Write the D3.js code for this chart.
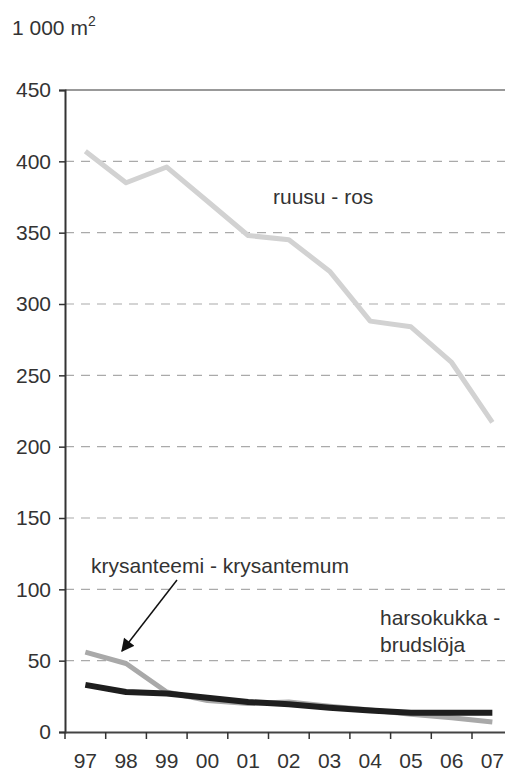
<!DOCTYPE html>
<html>
<head>
<meta charset="utf-8">
<script src="https://cdn.jsdelivr.net/npm/d3@7"></script>
<style>
    body { margin: 0; background: #fff; }
    text { font-family: Arial, "Liberation Sans", sans-serif; fill: #333; }
</style>
</head>
<body>
<div class="chart"></div>
<script>
// Data
const years = ['97', '98', '99', '00', '01', '02', '03', '04', '05', '06', '07'];
const ruusu = [407, 385, 396, 372, 348, 345, 323, 288, 284, 259, 217];
const krysanteemi = [56, 48, 28, 22, 20, 21, 18, 15.5, 12.5, 10, 7];
const harsokukka = [33, 28, 27, 24, 21, 19.5, 17, 15, 13.5, 13.5, 13.5];
const yTicks = [0, 50, 100, 150, 200, 250, 300, 350, 400, 450];

function drawChart() {
    const dimensions = {
        width: 505,
        height: 771,
        left: 65,
        top: 90,
        bottom: 732,
        band: 40.7,
        fontSize: '21px'
    };

    const svg = d3.select('.chart')
        .append('svg')
        .attr('width', dimensions.width)
        .attr('height', dimensions.height);

    // Scales
    const xScale = d3.scaleBand()
        .domain(years)
        .range([dimensions.left, dimensions.left + dimensions.band * years.length]);

    const yScale = d3.scaleLinear()
        .domain([0, 450])
        .range([dimensions.bottom, dimensions.top]);

    const xCenter = (d, i) => xScale(years[i]) + xScale.bandwidth() / 2;

    // Grid
    svg.append('g')
        .selectAll('line')
        .data(yTicks.filter(d => d > 0))
        .join('line')
        .attr('x1', dimensions.left)
        .attr('x2', xScale.range()[1])
        .attr('y1', d => yScale(d))
        .attr('y2', d => yScale(d))
        .attr('stroke', d => d === 450 ? '#999' : '#aaa')
        .attr('stroke-width', d => d === 450 ? 2 : 1.2)
        .attr('stroke-dasharray', d => d === 450 ? null : '9,7');

    // Axes
    const yAxis = d3.axisLeft(yScale)
        .tickValues(yTicks)
        .tickSize(6)
        .tickPadding(8);

    const yAxisGroup = svg.append('g')
        .attr('transform', `translate(${dimensions.left}, 0)`)
        .call(yAxis);
    yAxisGroup.select('.domain').attr('stroke', '#333').attr('stroke-width', 2);
    yAxisGroup.selectAll('.tick line').attr('stroke', '#333').attr('stroke-width', 1.5);
    yAxisGroup.selectAll('.tick text')
        .style('font-size', dimensions.fontSize)
        .attr('fill', '#333');

    const xAxis = d3.axisBottom(xScale)
        .tickSize(0)
        .tickPadding(21);

    const xAxisGroup = svg.append('g')
        .attr('transform', `translate(0, ${dimensions.bottom})`)
        .call(xAxis);
    xAxisGroup.select('.domain').attr('stroke', '#444').attr('stroke-width', 2);
    xAxisGroup.selectAll('.tick text')
        .style('font-size', dimensions.fontSize)
        .attr('fill', '#333');

    // x ticks at band edges
    xAxisGroup.selectAll('.edge')
        .data(years)
        .join('line')
        .attr('class', 'edge')
        .attr('x1', d => xScale(d))
        .attr('x2', d => xScale(d))
        .attr('y1', 0)
        .attr('y2', 7)
        .attr('stroke', '#333')
        .attr('stroke-width', 1.5);

    // Lines
    const series = [
        { values: ruusu, color: '#d2d2d2', width: 5 },
        { values: krysanteemi, color: '#a9a9a9', width: 5 },
        { values: harsokukka, color: '#1e1e1e', width: 6 }
    ];

    const line = d3.line()
        .x(xCenter)
        .y(d => yScale(d));

    svg.append('g')
        .selectAll('path')
        .data(series)
        .join('path')
        .attr('d', d => line(d.values))
        .attr('fill', 'none')
        .attr('stroke', d => d.color)
        .attr('stroke-width', d => d.width)
        .attr('stroke-linejoin', 'round');

    // Unit label
    const unit = svg.append('text')
        .attr('x', 12)
        .attr('y', 35)
        .style('font-size', dimensions.fontSize)
        .text('1 000 m');
    unit.append('tspan')
        .attr('dy', -9)
        .style('font-size', '14px')
        .text('2');

    // Annotations
    svg.append('text')
        .attr('x', 273)
        .attr('y', 204)
        .style('font-size', dimensions.fontSize)
        .text('ruusu - ros');

    svg.append('text')
        .attr('x', 91)
        .attr('y', 573)
        .style('font-size', dimensions.fontSize)
        .text('krysanteemi - krysantemum');

    const harso = svg.append('text')
        .attr('x', 380)
        .attr('y', 625)
        .style('font-size', dimensions.fontSize);
    harso.append('tspan').text('harsokukka -');
    harso.append('tspan').attr('x', 380).attr('dy', 27).text('brudslöja');

    // Arrow
    svg.append('defs')
        .append('marker')
        .attr('id', 'arrow')
        .attr('viewBox', '0 0 10 10')
        .attr('refX', 9)
        .attr('refY', 5)
        .attr('markerWidth', 15)
        .attr('markerHeight', 13)
        .attr('markerUnits', 'userSpaceOnUse')
        .attr('orient', 'auto')
        .append('path')
        .attr('d', 'M0,0 L10,5 L0,10 Z')
        .attr('fill', '#111');

    svg.append('line')
        .attr('x1', 177)
        .attr('y1', 580)
        .attr('x2', 122)
        .attr('y2', 651)
        .attr('stroke', '#111')
        .attr('stroke-width', 1.5)
        .attr('marker-end', 'url(#arrow)');
}

drawChart();
</script>
</body>
</html>
